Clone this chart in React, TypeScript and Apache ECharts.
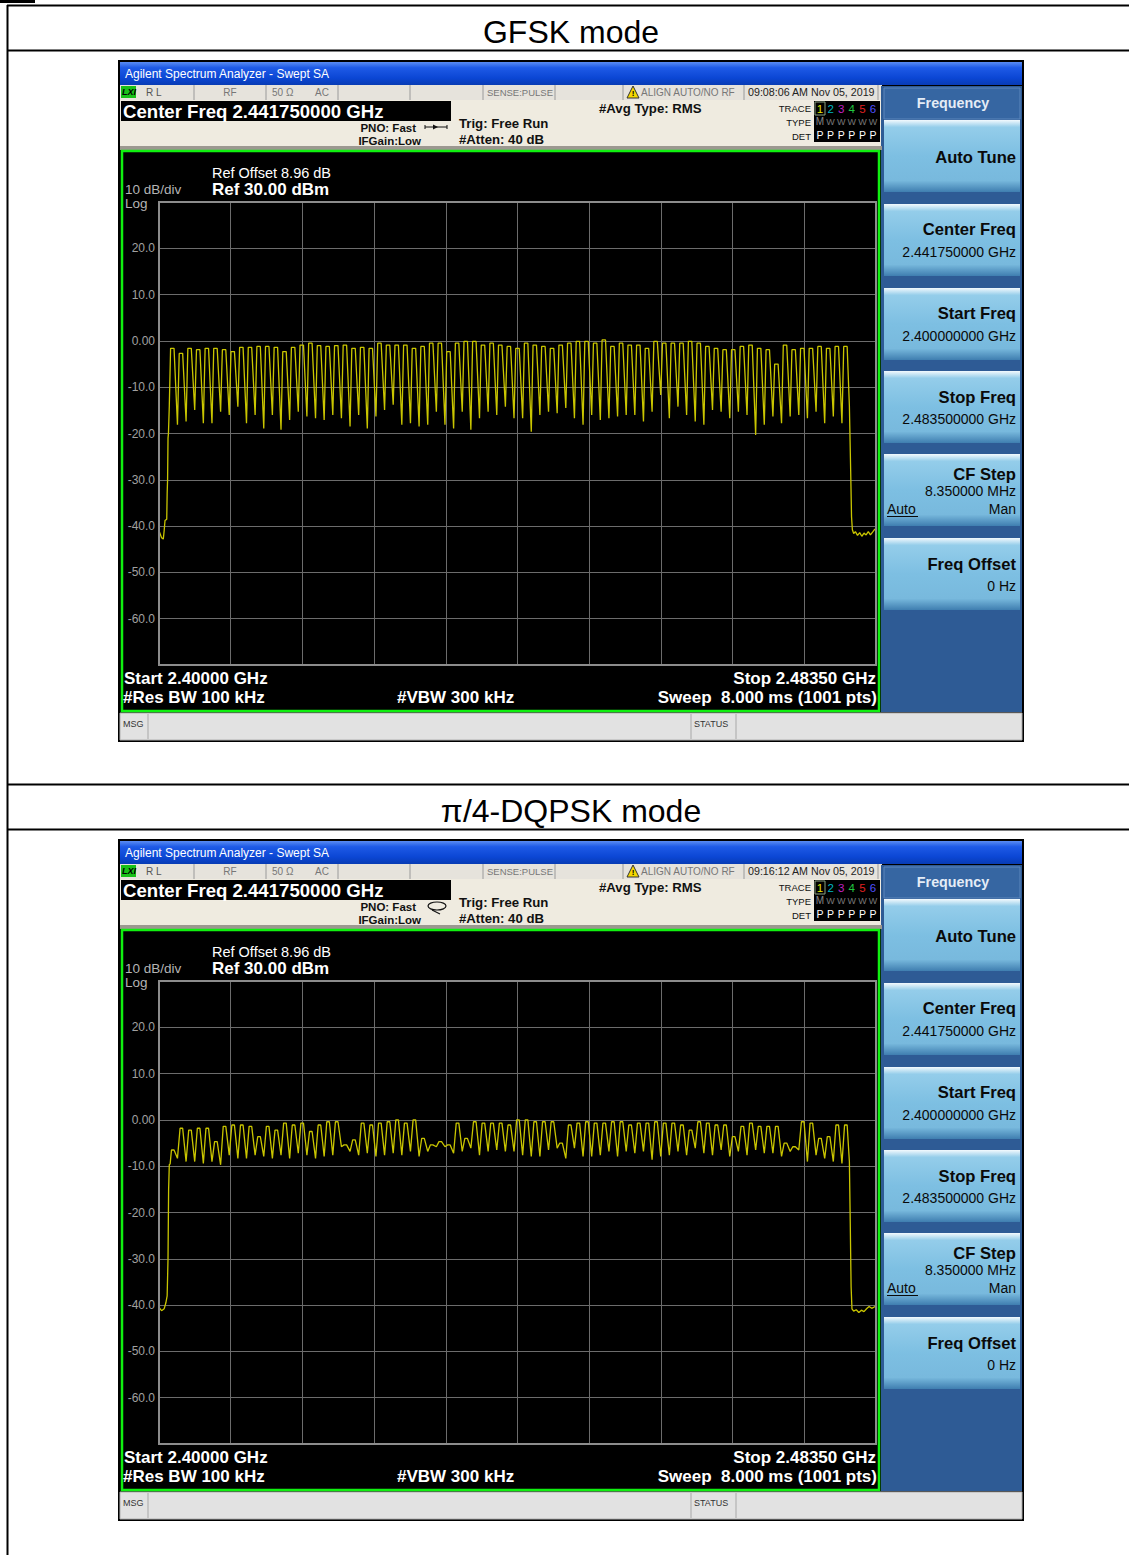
import React, { useEffect, useRef } from "react";
import * as echarts from "echarts";

// ---------- data ----------
const pageTitles = ["GFSK mode", "π/4-DQPSK mode"];
const timeStamps = ["09:08:06 AM Nov 05, 2019", "09:16:12 AM Nov 05, 2019"];
const SPAN_MHZ = 83.5; // 2.40000 GHz .. 2.48350 GHz (x = MHz above start)
const X_DIV_MHZ = 8.35;
const yTickValues = [20, 10, 0, -10, -20, -30, -40, -50, -60];
const yTickLabels = ["20.0", "10.0", "0.00", "-10.0", "-20.0", "-30.0", "-40.0", "-50.0", "-60.0"];

// GFSK: per-hop-channel peak levels (dBm), 79 channels
const gfskPeaks = [
  -1.6, -2.7, -1.6, -1.9, -1.6, -1.6, -1.9, -2.3, -1.4, -1.4, -1.2, -1.2, -1.4, -2.3, -1.4, -0.9, -0.5, -1.0, -1.2, -1.0,
  -0.9, -1.6, -1.4, -1.6, -0.5, -0.9, -0.9,
  -0.9, -1.6, -1.2, -0.5, -0.5, -2.3, -0.5, -0.1, -0.1, -0.9, -0.5, -0.9, -1.2, -1.6, -0.5, -0.9, -1.2, -1.6, -0.9, -0.5,
  -0.1, -0.1, -0.5, 0.2, -1.2, -0.5, -0.9,
  -0.9, -1.6, -0.1, -0.5, -0.5, -0.5, -0.1, -0.5, -1.2, -1.6, -1.9, -1.9, -1.2, -0.9, -1.6, -1.9, -5.0, -0.9, -1.9, -1.6,
  -1.6, -1.2, -1.6, -1.2, -1.2,
];
// GFSK: dips between neighbouring channels (dBm), 78 values
const gfskTroughs = [
  -18.1, -17.4, -14.9, -17.8, -17.8, -15.3, -16.0, -14.2, -17.8, -16.0, -18.9, -16.0, -19.2, -17.1, -15.3, -16.3, -16.7,
  -17.1, -16.0, -16.7, -18.5, -16.0, -18.9, -16.3, -14.9,
  -13.8, -18.1, -17.8, -18.5, -18.1, -15.3, -18.1, -18.9, -15.3, -19.2, -16.7, -15.3, -16.0, -14.2, -16.7, -16.7, -19.6,
  -16.0, -15.3, -15.6, -14.5, -16.7, -18.1, -16.0, -17.1, -16.7, -16.3, -16.0,
  -16.0, -17.4, -15.3, -11.7, -16.7, -14.2, -16.0, -17.4, -18.1, -14.9, -15.3, -16.7, -15.3, -16.0, -20.3, -18.1, -16.3,
  -17.8, -16.3, -16.0, -16.7, -15.3, -17.8, -16.3, -17.8,
];
const gfskLeftEdge: [number, number][] = [
  [0, -41.0], [0.3, -42.5], [0.5, -42.8], [0.6, -41.0], [0.7, -38.8], [0.9, -38.5], [0.95, -33.0], [1.0, -30.0],
  [1.05, -21.0], [1.1, -20.0], [1.2, -14.0],
];
const gfskRightEdge: [number, number][] = [
  [80.4, -14.0], [80.55, -28.0], [80.65, -38.0], [80.75, -40.8], [80.9, -41.6], [81.1, -41.2], [81.35, -42.0],
  [81.6, -41.4], [81.85, -42.2], [82.1, -41.5], [82.35, -41.9], [82.6, -41.2], [82.85, -41.9], [83.1, -41.3],
  [83.3, -40.8], [83.5, -40.5],
];

// pi/4-DQPSK: per-channel peak levels (dBm), 79 channels
const dqpskPeaks = [
  -6.5, -1.8, -2.2, -1.8, -1.8, -4.7, -1.4, -1.1, -1.1, -1.4, -3.6, -1.4, -2.2, -0.7, -1.1, -0.7, -2.5, -1.1, -0.4, -0.4,
  -5.4, -4.3, -0.7, -1.1, -0.7, -0.4, 0.0, -0.7, 0.0, -4.0, -5.4, -4.7, -5.4, -0.7, -4.0, -0.4, -0.7, -0.7, -0.7, -1.1,
  0.0, 0.0, -0.4, -0.4, -0.4, -5.0, -1.1, -0.7, -0.4, -0.7, -0.7, -0.4, -0.4, -1.1, -0.7, -0.7, -0.4, -0.7, -0.7, -1.1,
  -2.2, -0.4, -0.7, -1.1, -1.1, -3.6, -1.4, -0.7, -1.4, -1.4, -1.4, -5.0, -5.8, -0.4, -0.7, -4.0, -3.6, -1.1, -1.1,
];
const dqpskTroughs = [
  -8.3, -9.0, -9.0, -9.4, -9.0, -9.7, -7.6, -8.3, -8.3, -7.6, -7.9, -8.3, -7.6, -8.3, -7.2, -7.6, -8.3, -7.9, -7.6, -5.8,
  -6.8, -7.6, -7.2, -7.9, -7.6, -7.2, -7.6, -6.8, -7.9, -6.8, -5.8, -5.8, -7.2, -6.8, -6.1, -7.6, -6.8, -6.5, -6.8, -6.8,
  -7.6, -7.9, -7.9, -6.5, -6.1, -8.3, -6.1, -7.9, -7.9, -7.6, -6.8, -7.9, -6.8, -7.2, -6.8, -8.6, -7.9, -7.6, -6.8, -7.6,
  -6.1, -7.2, -7.6, -6.5, -7.9, -6.8, -7.6, -6.5, -7.2, -7.2, -7.9, -6.8, -6.5, -9.0, -7.6, -8.3, -9.0, -9.4,
];
const dqpskLeftEdge: [number, number][] = [
  [0, -40.5], [0.3, -41.2], [0.6, -40.8], [0.8, -39.5], [0.95, -38.0], [1.05, -30.0], [1.12, -15.0], [1.2, -9.7],
  [1.3, -9.5],
];
const dqpskRightEdge: [number, number][] = [
  [80.4, -9.0], [80.5, -22.0], [80.6, -36.0], [80.7, -40.8], [80.9, -41.3], [81.2, -41.0], [81.5, -41.6], [81.8, -41.1],
  [82.1, -41.4], [82.4, -40.8], [82.7, -40.3], [83.0, -40.7], [83.3, -40.4], [83.5, -40.2],
];

// ---------- helpers ----------
function buildTrace(
  left: [number, number][],
  peaks: number[],
  troughs: number[],
  right: [number, number][],
  start: number,
  step: number,
  rise: number,
  top: number,
  fall: number
) {
  const pts: [number, number][] = left.slice();
  peaks.forEach((p, k) => {
    const c = start + k * step;
    pts.push([c - rise, p], [c + top, p]);
    if (k < troughs.length) pts.push([c + fall, troughs[k]]);
  });
  return pts.concat(right);
}

const F = "'Liberation Sans', Arial, sans-serif";

function screenGraphics(dy: number, time: string, loopIcon: boolean): any[] {
  const els: any[] = [];
  const T = (text: string, x: number, y: number, font: string, fill: string, align = "left", z = 60) =>
    els.push({
      type: "text",
      z,
      style: { text, x, y: y + dy, font, fill, textAlign: align, textVerticalAlign: "middle" },
    });
  const R = (x: number, y: number, w: number, h: number, style: any, z = -5) =>
    els.push({ type: "rect", z, shape: { x, y: y + dy, width: w, height: h }, style });
  const L = (x1: number, y1: number, x2: number, y2: number, stroke: string, lw = 1, z = 60) =>
    els.push({ type: "line", z, shape: { x1, y1: y1 + dy, x2, y2: y2 + dy }, style: { stroke, lineWidth: lw } });

  // outer frame / background
  R(118, 60, 906, 682, { fill: "#000000" }, -10);
  // title bar
  R(120, 62, 902, 23, {
    fill: new echarts.graphic.LinearGradient(0, 0, 0, 1, [
      { offset: 0, color: "#5a8cf2" },
      { offset: 0.25, color: "#1e5ae6" },
      { offset: 0.7, color: "#0b46d4" },
      { offset: 1, color: "#083cb4" },
    ]),
  });
  T("Agilent Spectrum Analyzer - Swept SA", 125, 74, `12px ${F}`, "#ffffff");
  // status row
  R(120, 85, 762, 15, { fill: "#e6e3dc" });
  R(121, 86, 15, 12, { fill: "#18c018" }, -4);
  T("LXI", 122, 92, `italic bold 9px ${F}`, "#000000");
  T("R L", 146, 92, `10px ${F}`, "#555555");
  T("RF", 230, 92, `10px ${F}`, "#777777", "center");
  T("50 Ω", 272, 92, `10px ${F}`, "#777777");
  T("AC", 315, 92, `10px ${F}`, "#777777");
  T("SENSE:PULSE", 487, 92, `9.5px ${F}`, "#777777");
  T("ALIGN AUTO/NO RF", 641, 92, `10px ${F}`, "#777777");
  T(time, 748, 92, `10.7px ${F}`, "#222222");
  [194, 266, 338, 410, 483, 555, 623, 744, 878].forEach((x) => L(x, 85, x, 100, "#9a9a9a", 1, 20));
  els.push({
    type: "polygon",
    z: 60,
    shape: { points: [[633, 86 + dy], [627, 98 + dy], [639, 98 + dy]] },
    style: { fill: "#f5d800", stroke: "#333333", lineWidth: 1 },
  });
  T("!", 633, 93.5, `bold 8px ${F}`, "#000000", "center", 61);

  // header
  R(120, 100, 762, 48, { fill: "#efebe0" });
  R(121, 101, 330, 20, { fill: "#000000" }, -4);
  R(120, 146, 762, 4, { fill: "#9c9890" }, -4);
  T("Center Freq 2.441750000 GHz", 123, 111, `bold 18.6px ${F}`, "#ffffff");
  T("PNO: Fast", 416, 128, `bold 11.5px ${F}`, "#111111", "right");
  T("IFGain:Low", 421, 141, `bold 11.5px ${F}`, "#111111", "right");
  if (!loopIcon) {
    L(425, 127, 447, 127, "#111111", 1);
    els.push({
      type: "polygon",
      z: 60,
      shape: { points: [[433, 124.5 + dy], [438, 127 + dy], [433, 129.5 + dy]] },
      style: { fill: "#111111" },
    });
    L(425, 125, 425, 129, "#111111", 1);
    L(447, 125, 447, 129, "#111111", 1);
  } else {
    els.push({
      type: "ellipse",
      z: 60,
      shape: { cx: 437, cy: 127 + dy, rx: 9, ry: 4 },
      style: { fill: "none", stroke: "#111111", lineWidth: 1.2 },
    });
    L(432, 131, 440, 135, "#111111", 1.2);
  }
  T("Trig: Free Run", 459, 123, `bold 13.2px ${F}`, "#111111");
  T("#Atten: 40 dB", 459, 139, `bold 13.2px ${F}`, "#111111");
  T("#Avg Type: RMS", 599, 108, `bold 13.2px ${F}`, "#111111");
  T("TRACE", 811, 108, `9.5px ${F}`, "#111111", "right");
  T("TYPE", 811, 122, `9.5px ${F}`, "#111111", "right");
  T("DET", 811, 136, `9.5px ${F}`, "#111111", "right");
  R(814, 101, 66, 41, { fill: "#000000" }, -4);
  R(815, 102, 10, 13, { fill: "none", stroke: "#8aa080", lineWidth: 1 }, 55);
  const traceColors = ["#e8e800", "#00b8c0", "#c020c0", "#20c840", "#e02020", "#5050ff"];
  traceColors.forEach((c, i) => T(String(i + 1), 820 + i * 10.6, 108.5, `11.5px ${F}`, c, "center"));
  T("M", 820, 121.5, `10px ${F}`, "#888888", "center");
  for (let i = 1; i < 6; i++) T("W", 820 + i * 10.6, 121.5, `9px ${F}`, "#777777", "center");
  for (let i = 0; i < 6; i++) T("P", 820 + i * 10.6, 134.5, `10.5px ${F}`, "#ffffff", "center");

  // plot area
  R(122, 151, 757, 560, { fill: "#000000", stroke: "#10f010", lineWidth: 2.5 }, -3);
  R(159, 202, 717, 463, { fill: "none", stroke: "#8c8c8c", lineWidth: 2 }, 40);
  T("10 dB/div", 125, 189, `13.5px ${F}`, "#b4b4b4");
  T("Log", 125, 203, `13.5px ${F}`, "#b4b4b4");
  T("Ref Offset 8.96 dB", 212, 173, `14.5px ${F}`, "#ffffff");
  T("Ref 30.00 dBm", 212, 189, `bold 17px ${F}`, "#ffffff");
  T("Start 2.40000 GHz", 124, 678, `bold 17px ${F}`, "#ffffff");
  T("#Res BW 100 kHz", 123, 697, `bold 17px ${F}`, "#ffffff");
  T("#VBW 300 kHz", 397, 697, `bold 17px ${F}`, "#ffffff");
  T("Stop 2.48350 GHz", 876, 678, `bold 17px ${F}`, "#ffffff", "right");
  T("Sweep  8.000 ms (1001 pts)", 877, 697, `bold 17px ${F}`, "#ffffff", "right");

  // right soft-key panel
  R(881, 86, 141, 626, { fill: "#2e5b95" });
  R(884, 88, 136, 31, { fill: "#3666a2", stroke: "#5a86bc", lineWidth: 1 }, -4);
  T("Frequency", 953, 103, `bold 14.3px ${F}`, "#e4ecf6", "center");
  const btnTops = [120, 204, 288, 371, 454, 538];
  btnTops.forEach((t) =>
    R(884, t, 136, 72, {
      fill: new echarts.graphic.LinearGradient(0, 0, 0, 1, [
        { offset: 0, color: "#f2f9fd" },
        { offset: 0.1, color: "#94cdea" },
        { offset: 0.5, color: "#7dbfe2" },
        { offset: 0.84, color: "#78b9dd" },
        { offset: 1, color: "#3f7eb0" },
      ]),
    }, -4)
  );
  const bold = `bold 16.6px ${F}`;
  const reg = `14px ${F}`;
  T("Auto Tune", 1016, 157, bold, "#0a0a0a", "right");
  T("Center Freq", 1016, 229, bold, "#0a0a0a", "right");
  T("2.441750000 GHz", 1016, 252, reg, "#0a0a0a", "right");
  T("Start Freq", 1016, 313, bold, "#0a0a0a", "right");
  T("2.400000000 GHz", 1016, 336, reg, "#0a0a0a", "right");
  T("Stop Freq", 1016, 397, bold, "#0a0a0a", "right");
  T("2.483500000 GHz", 1016, 419, reg, "#0a0a0a", "right");
  T("CF Step", 1016, 474, bold, "#0a0a0a", "right");
  T("8.350000 MHz", 1016, 491, reg, "#0a0a0a", "right");
  T("Auto", 887, 509, reg, "#0a0a0a");
  L(887, 516.5, 918, 516.5, "#0a0a0a", 1);
  T("Man", 1016, 509, reg, "#0a0a0a", "right");
  T("Freq Offset", 1016, 564, bold, "#0a0a0a", "right");
  T("0 Hz", 1016, 586, reg, "#0a0a0a", "right");

  // bottom message bar
  R(120, 713, 902, 27, { fill: "#e2e2e2", stroke: "#b0b0b0", lineWidth: 1 });
  T("MSG", 123, 724, `9px ${F}`, "#333333");
  T("STATUS", 694, 724, `9px ${F}`, "#333333");
  [148, 691, 736].forEach((x) => L(x, 714, x, 739, "#a8a8a8", 1, 20));
  return els;
}

function pageGraphics(): any[] {
  const els: any[] = [];
  const line = (x1: number, y1: number, x2: number, y2: number, lw: number) =>
    els.push({ type: "line", z: 60, shape: { x1, y1, x2, y2 }, style: { stroke: "#000000", lineWidth: lw } });
  els.push({ type: "rect", z: 60, shape: { x: 0, y: 0, width: 35, height: 3 }, style: { fill: "#000000" } });
  line(7, 5.5, 1129, 5.5, 2);
  line(7.5, 5, 7.5, 1555, 2);
  line(7, 50.5, 1129, 50.5, 2);
  line(7, 784.5, 1129, 784.5, 2);
  line(7, 829.5, 1129, 829.5, 2);
  els.push({
    type: "text",
    z: 60,
    style: { text: pageTitles[0], x: 571, y: 32, font: `32px ${F}`, fill: "#000000", textAlign: "center", textVerticalAlign: "middle" },
  });
  els.push({
    type: "text",
    z: 60,
    style: { text: pageTitles[1], x: 571, y: 811, font: `32px ${F}`, fill: "#000000", textAlign: "center", textVerticalAlign: "middle" },
  });
  return els;
}

export default function App() {
  const ref = useRef<HTMLDivElement>(null);
  useEffect(() => {
    if (!ref.current) return;
    const chart = echarts.init(ref.current, undefined, { renderer: "svg" });
    const gfsk = buildTrace(gfskLeftEdge, gfskPeaks, gfskTroughs, gfskRightEdge, 1.6, 1.005, 0.25, 0.15, 0.55);
    const dqpsk = buildTrace(dqpskLeftEdge, dqpskPeaks, dqpskTroughs, dqpskRightEdge, 1.65, 1.005, 0.2, 0.1, 0.5);
    const tops = [202, 981];
    const option: any = {
      animation: false,
      backgroundColor: "#ffffff",
      grid: tops.map((t) => ({ left: 159, top: t, width: 717, height: 463, containLabel: false })),
      xAxis: tops.map((_, i) => ({
        type: "value",
        gridIndex: i,
        min: 0,
        max: SPAN_MHZ,
        interval: X_DIV_MHZ,
        axisLabel: { show: false },
        axisTick: { show: false },
        axisLine: { show: false },
        splitLine: { show: true, lineStyle: { color: "#6c6c6c", width: 1 } },
      })),
      yAxis: tops.map((_, i) => ({
        type: "value",
        gridIndex: i,
        min: -70,
        max: 30,
        interval: 10,
        axisTick: { show: false },
        axisLine: { show: false },
        splitLine: { show: true, lineStyle: { color: "#6c6c6c", width: 1 } },
        axisLabel: {
          margin: 4,
          color: "#a0a0a0",
          fontSize: 12,
          fontFamily: "Liberation Sans, Arial, sans-serif",
          formatter: (v: number) => {
            const idx = yTickValues.indexOf(Math.round(v));
            return idx >= 0 ? yTickLabels[idx] : "";
          },
        },
      })),
      series: [
        {
          type: "line",
          xAxisIndex: 0,
          yAxisIndex: 0,
          data: gfsk,
          showSymbol: false,
          lineStyle: { color: "#c9c500", width: 1.3 },
          z: 10,
        },
        {
          type: "line",
          xAxisIndex: 1,
          yAxisIndex: 1,
          data: dqpsk,
          showSymbol: false,
          lineStyle: { color: "#c9c500", width: 1.3 },
          z: 10,
        },
      ],
      graphic: {
        elements: [
          ...pageGraphics(),
          ...screenGraphics(0, timeStamps[0], false),
          ...screenGraphics(779, timeStamps[1], true),
        ],
      },
    };
    chart.setOption(option);
    return () => chart.dispose();
  }, []);
  return (
    <div
      ref={ref}
      style={{ position: "absolute", left: 0, top: 0, width: 1129, height: 1555 }}
    />
  );
}
